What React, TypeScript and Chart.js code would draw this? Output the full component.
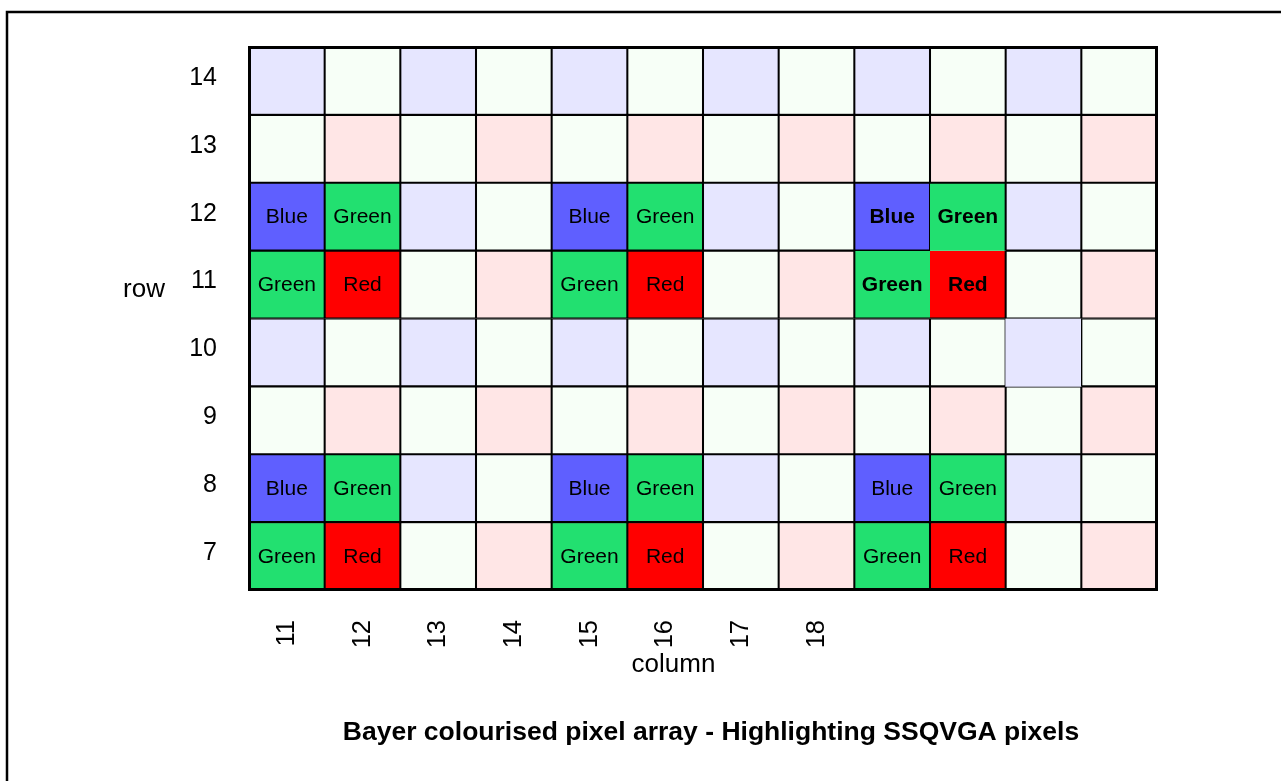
import { useEffect, useRef } from 'react';
import { Chart, registerables } from 'chart.js';

Chart.register(...registerables);

// ---- data ----
const columns = [11, 12, 13, 14, 15, 16, 17, 18, 19, 20, 21, 22];
const rows = [14, 13, 12, 11, 10, 9, 8, 7];
const xTickLabels = ['11', '12', '13', '14', '15', '16', '17', '18', '', '', '', ''];
const yTickLabels = ['14', '13', '12', '11', '10', '9', '8', '7'];

// Bayer filter of each cell, one line per row (top row first)
const rowFilters: string[][] = [
  ['B', 'G', 'B', 'G', 'B', 'G', 'B', 'G', 'B', 'G', 'B', 'G'], // 14
  ['G', 'R', 'G', 'R', 'G', 'R', 'G', 'R', 'G', 'R', 'G', 'R'], // 13
  ['B', 'G', 'B', 'G', 'B', 'G', 'B', 'G', 'B', 'G', 'B', 'G'], // 12
  ['G', 'R', 'G', 'R', 'G', 'R', 'G', 'R', 'G', 'R', 'G', 'R'], // 11
  ['B', 'G', 'B', 'G', 'B', 'G', 'B', 'G', 'B', 'G', 'B', 'G'], // 10
  ['G', 'R', 'G', 'R', 'G', 'R', 'G', 'R', 'G', 'R', 'G', 'R'], // 9
  ['B', 'G', 'B', 'G', 'B', 'G', 'B', 'G', 'B', 'G', 'B', 'G'], // 8
  ['G', 'R', 'G', 'R', 'G', 'R', 'G', 'R', 'G', 'R', 'G', 'R'], // 7
];
const highlightedColumns = [11, 12, 15, 16, 19, 20];
const highlightedRows = [12, 11, 8, 7];
const boldColumns = [19, 20];
const boldRows = [12, 11];
const filterNames: Record<string, string> = { B: 'Blue', G: 'Green', R: 'Red' };

const titleText = 'Bayer colourised pixel array - Highlighting SSQVGA pixels';
const xAxisTitle = 'column';
const yAxisTitle = 'row';

// ---- styles ----
const FONT = "'Liberation Sans', Arial, Helvetica, sans-serif";
const lightColours: Record<string, string> = { B: '#E6E6FF', G: '#F7FFF7', R: '#FFE6E6' };
const strongColours: Record<string, string> = { B: '#5F5FFF', G: '#22E070', R: '#FF0000' };
const CB = 1.35; // cell border width
type BW = number | { top: number; right: number; bottom: number; left: number };
const borderExceptions: { col: number; row: number; w: BW }[] = [
  { col: 20, row: 12, w: { top: CB, right: CB, bottom: 0, left: 0 } },
  { col: 19, row: 11, w: { top: 0, right: 0, bottom: CB, left: CB } },
  { col: 20, row: 11, w: { top: 0, right: CB, bottom: CB, left: 0 } },
  { col: 21, row: 10, w: 0 },
];

const W = 1281;
const H = 781;

const isHighlighted = (c: number, r: number) =>
  highlightedColumns.includes(c) && highlightedRows.includes(r);

const decorPlugin = {
  id: 'decor',
  beforeDraw(chart: any) {
    const ctx = chart.ctx;
    ctx.save();
    ctx.fillStyle = '#ffffff';
    ctx.fillRect(0, 0, chart.width, chart.height);
    ctx.strokeStyle = '#000';
    ctx.lineWidth = 2.5;
    ctx.beginPath();
    ctx.moveTo(7, chart.height + 2);
    ctx.lineTo(7, 12);
    ctx.lineTo(chart.width + 2, 12);
    ctx.stroke();
    ctx.restore();
  },
  afterDatasetsDraw(chart: any) {
    const ctx = chart.ctx;
    const a = chart.chartArea;
    ctx.save();
    ctx.strokeStyle = '#000';
    ctx.lineWidth = 3;
    ctx.strokeRect(a.left + 0.5, a.top + 0.5, a.right - a.left - 1, a.bottom - a.top - 1);

    ctx.fillStyle = '#000';
    ctx.textAlign = 'center';
    ctx.textBaseline = 'middle';
    rows.forEach((r, ri) => {
      const meta = chart.getDatasetMeta(ri);
      columns.forEach((c, ci) => {
        if (!isHighlighted(c, r)) return;
        const el = meta.data[ci];
        if (!el) return;
        const p = el.getCenterPoint();
        const bold = boldColumns.includes(c) && boldRows.includes(r);
        ctx.font = `${bold ? 'bold ' : ''}21px ${FONT}`;
        ctx.fillText(filterNames[rowFilters[ri][ci]], p.x, p.y + 1);
      });
    });
    ctx.restore();
  },
  afterDraw(chart: any) {
    const ctx = chart.ctx;
    ctx.save();
    ctx.fillStyle = '#000';
    ctx.textBaseline = 'alphabetic';
    ctx.font = `26px ${FONT}`;
    ctx.textAlign = 'center';
    ctx.fillText(yAxisTitle, 144, 297);
    ctx.fillText(xAxisTitle, 673.5, 672);
    ctx.font = `bold 26.5px ${FONT}`;
    ctx.fillText(titleText, 711, 740);
    ctx.restore();
  },
};

export default function App() {
  const ref = useRef<HTMLCanvasElement | null>(null);

  useEffect(() => {
    if (!ref.current) return;
    const datasets = rows.map((r, ri) => ({
      label: String(r),
      data: columns.map(() => [r - 0.5, r + 0.5]),
      backgroundColor: columns.map((c, ci) =>
        isHighlighted(c, r) ? strongColours[rowFilters[ri][ci]] : lightColours[rowFilters[ri][ci]]
      ),
      borderColor: '#000000',
      borderWidth: columns.map((c) => {
        const ex = borderExceptions.find((e) => e.col === c && e.row === r);
        return ex ? ex.w : CB;
      }),
      borderSkipped: false,
      grouped: false,
      barPercentage: 1,
      categoryPercentage: 1,
    }));

    const chart = new Chart(ref.current, {
      type: 'bar',
      data: { labels: columns.map(String), datasets: datasets as any },
      plugins: [decorPlugin],
      options: {
        animation: false,
        responsive: false,
        maintainAspectRatio: false,
        devicePixelRatio: 1,
        events: [],
        layout: { padding: { top: 47, right: 124, bottom: 0, left: 0 } },
        plugins: {
          legend: { display: false },
          tooltip: { enabled: false },
          title: { display: false },
        },
        scales: {
          x: {
            type: 'category',
            offset: true,
            grid: { display: false },
            border: { display: false },
            ticks: {
              autoSkip: false,
              minRotation: 90,
              maxRotation: 90,
              padding: 22,
              color: '#000',
              font: { family: FONT, size: 25.5 },
              callback: (_v: any, i: number) => xTickLabels[i],
            },
            afterFit: (s: any) => {
              s.height = H - 590;
            },
          },
          y: {
            type: 'linear',
            min: rows[rows.length - 1] - 0.5,
            max: rows[0] + 0.5,
            grid: { display: false },
            border: { display: false },
            afterBuildTicks: (s: any) => {
              s.ticks = rows.map((v) => ({ value: v }));
            },
            ticks: {
              padding: 24,
              labelOffset: -3,
              color: '#000',
              font: { family: FONT, size: 25 },
              callback: (v: any) => yTickLabels[rows.indexOf(Number(v))] ?? '',
            },
            afterFit: (s: any) => {
              s.width = 249;
            },
          },
        },
      } as any,
    });
    return () => chart.destroy();
  }, []);

  return (
    <div style={{ position: 'absolute', left: 0, top: 0, width: W, height: H, background: '#fff' }}>
      <canvas ref={ref} width={W} height={H} style={{ display: 'block', width: W, height: H }} />
    </div>
  );
}
